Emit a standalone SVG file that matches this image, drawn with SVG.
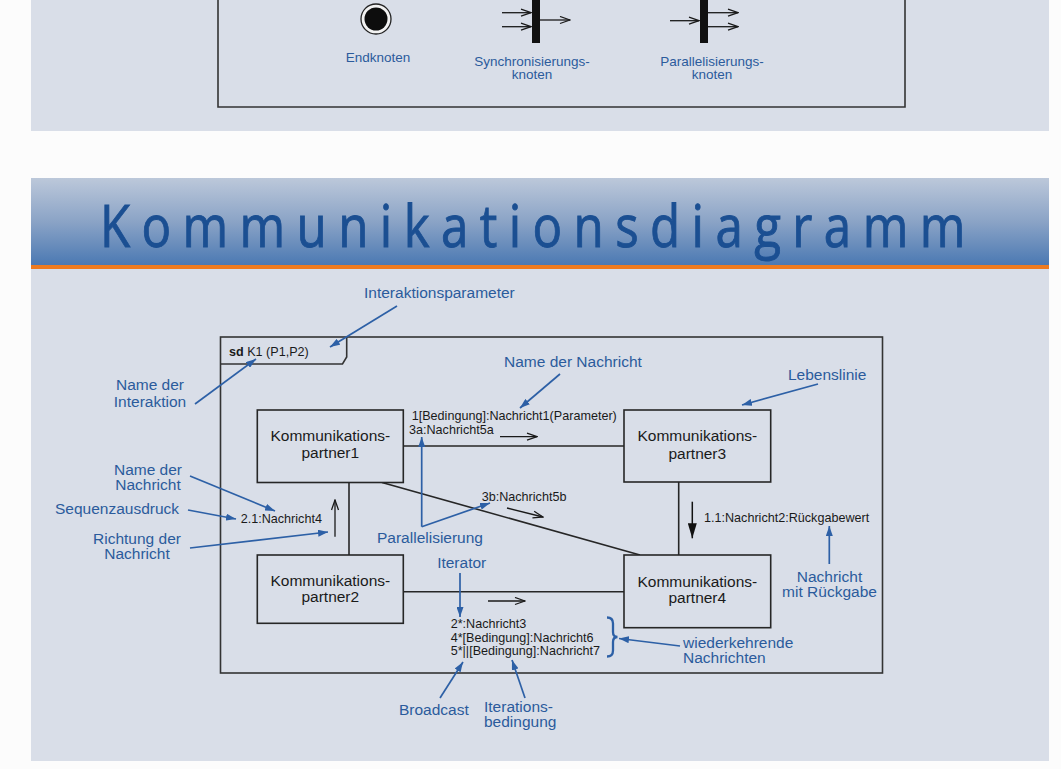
<svg xmlns="http://www.w3.org/2000/svg" width="1061" height="769" viewBox="0 0 1061 769">
<defs>
<linearGradient id="hdr" x1="0" y1="0" x2="0" y2="1">
<stop offset="0" stop-color="#bcc8da"/>
<stop offset="0.5" stop-color="#8aa3c6"/>
<stop offset="1" stop-color="#4a78b2"/>
</linearGradient>
<marker id="ba" viewBox="0 0 10 7" refX="10" refY="3.5" markerWidth="10" markerHeight="7" markerUnits="userSpaceOnUse" orient="auto">
<path d="M0,0 L10,3.5 L0,7 z" fill="#2d60a6"/>
</marker>
<marker id="oa" viewBox="-1 -1 12 9" refX="10" refY="3.5" markerWidth="12" markerHeight="9" markerUnits="userSpaceOnUse" orient="auto">
<path d="M0,0 L10,3.5 L0,7" fill="none" stroke="#1a1a1a" stroke-width="1.3"/>
</marker>
<marker id="fa" viewBox="0 0 15 9" refX="15" refY="4.5" markerWidth="15" markerHeight="9" markerUnits="userSpaceOnUse" orient="auto">
<path d="M0,0 L15,4.5 L0,9 z" fill="#111"/>
</marker>
</defs>
<style>
.panel{fill:#d9dee8}
.frame{fill:none;stroke:#333;stroke-width:1.6}
.box{fill:#d9dee8;stroke:#262626;stroke-width:1.6}
.conn{stroke:#262626;stroke-width:1.6;fill:none}
.msgarr{stroke:#1a1a1a;stroke-width:1.3;fill:none;marker-end:url(#oa)}
.ann{stroke:#2d60a6;stroke-width:1.7;fill:none;marker-end:url(#ba)}
.lbl{font-family:"Liberation Sans",Arial,sans-serif;font-size:15.5px;fill:#2b5b9c}
.tl{font-family:"Liberation Sans",Arial,sans-serif;font-size:13.5px;fill:#2b5b9c;text-anchor:middle}
.msg{font-family:"Liberation Sans",Arial,sans-serif;font-size:12.6px;fill:#1a1a1a}
.node{font-family:"Liberation Sans",Arial,sans-serif;font-size:15.5px;fill:#1a1a1a;text-anchor:middle}
.mid{text-anchor:middle}
</style>
<rect x="0" y="0" width="1061" height="769" fill="#fcfcfc"/>
<!-- top panel -->
<rect class="panel" x="31" y="0" width="1018" height="131"/>
<path class="frame" d="M218,-5 L218,107 L905,107 L905,-5"/>
<g id="endknoten">
<circle cx="376" cy="19" r="15" fill="#f2f2f2" stroke="#222" stroke-width="1.3"/>
<circle cx="376" cy="19" r="11.5" fill="#0d0d0d"/>
<text class="tl" x="378" y="62">Endknoten</text>
</g>
<g id="synchronisierungsknoten">
<rect x="532" y="-5" width="8" height="48" fill="#111"/>
<line class="msgarr" x1="502" y1="12.7" x2="531" y2="12.7"/>
<line class="msgarr" x1="502" y1="26.7" x2="531" y2="26.7"/>
<line class="msgarr" x1="540" y1="20" x2="570" y2="20"/>
<text class="tl" x="532" y="66">Synchronisierungs-</text>
<text class="tl" x="532" y="79">knoten</text>
</g>
<g id="parallelisierungsknoten">
<rect x="700" y="-5" width="8" height="48" fill="#111"/>
<line class="msgarr" x1="670" y1="20.7" x2="699" y2="20.7"/>
<line class="msgarr" x1="708" y1="12.7" x2="738" y2="12.7"/>
<line class="msgarr" x1="708" y1="26.7" x2="738" y2="26.7"/>
<text class="tl" x="712" y="66">Parallelisierungs-</text>
<text class="tl" x="712" y="79">knoten</text>
</g>
<!-- header -->
<rect x="31" y="178" width="1018" height="88" fill="url(#hdr)"/>
<rect x="31" y="265" width="1018" height="4" fill="#ef7b1f"/>
<text transform="translate(100,247) scale(0.85,1)" x="0" y="0" font-family="'Open Sans','Noto Sans',sans-serif" font-size="58" fill="#1b4f92" stroke="#1b4f92" stroke-width="0.9" textLength="1018" lengthAdjust="spacing">Kommunikationsdiagramm</text>
<!-- bottom panel -->
<rect class="panel" x="31" y="269" width="1018" height="492"/>
<g id="frame-sd">
<rect class="frame" x="220.5" y="337" width="662" height="336"/>
<path class="frame" d="M220.5,364 L342.5,364 L346.7,357 L346.7,337"/>
<text class="msg" x="229" y="356" font-size="13"><tspan font-weight="bold">sd</tspan> K1 (P1,P2)</text>
</g>
<g id="connectors">
<line class="conn" x1="403.3" y1="446" x2="624" y2="446"/>
<line class="conn" x1="382" y1="482.5" x2="640" y2="555"/>
<line class="conn" x1="349" y1="482.5" x2="349" y2="555"/>
<line class="conn" x1="678.7" y1="482" x2="678.7" y2="555"/>
<line class="conn" x1="403.3" y1="591.7" x2="624" y2="591.7"/>
<line class="msgarr" x1="500" y1="436.7" x2="537" y2="436.7"/>
<line class="msgarr" x1="507" y1="508" x2="543" y2="517"/>
<line class="msgarr" x1="335" y1="536.7" x2="335" y2="500"/>
<line class="msgarr" x1="488" y1="601" x2="525" y2="601"/>
<line x1="692.3" y1="501.7" x2="692.3" y2="538.3" stroke="#111" stroke-width="1.5" marker-end="url(#fa)"/>
</g>
<g id="partner1">
<rect class="box" x="257.3" y="410" width="146" height="72.5"/>
<text class="node" x="330.3" y="441">Kommunikations-</text>
<text class="node" x="330.3" y="458">partner1</text>
</g>
<g id="partner3">
<rect class="box" x="624" y="410" width="146.7" height="72"/>
<text class="node" x="697.3" y="441">Kommunikations-</text>
<text class="node" x="697.3" y="459">partner3</text>
</g>
<g id="partner2">
<rect class="box" x="257.3" y="555" width="146" height="68.3"/>
<text class="node" x="330.3" y="586">Kommunikations-</text>
<text class="node" x="330.3" y="602">partner2</text>
</g>
<g id="partner4">
<rect class="box" x="624" y="555" width="146.7" height="72.7"/>
<text class="node" x="697.3" y="587">Kommunikations-</text>
<text class="node" x="697.3" y="603">partner4</text>
</g>
<g id="messages">
<text class="msg" x="411.7" y="420">1[Bedingung]:Nachricht1(Parameter)</text>
<text class="msg" x="409" y="433.5">3a:Nachricht5a</text>
<text class="msg" x="481.7" y="501">3b:Nachricht5b</text>
<text class="msg" x="240.7" y="523.3">2.1:Nachricht4</text>
<text class="msg" x="704" y="521.7">1.1:Nachricht2:Rückgabewert</text>
<text class="msg" x="450.7" y="628">2*:Nachricht3</text>
<text class="msg" x="450.7" y="641.5">4*[Bedingung]:Nachricht6</text>
<text class="msg" x="450.7" y="655">5*||[Bedingung]:Nachricht7</text>
</g>
<g id="annotations">
<text class="lbl" x="364" y="298">Interaktionsparameter</text>
<line class="ann" x1="397" y1="306" x2="330" y2="347"/>
<text class="lbl mid" x="150" y="390">Name der</text>
<text class="lbl mid" x="150" y="406.7">Interaktion</text>
<line class="ann" x1="195" y1="404" x2="256" y2="359"/>
<text class="lbl" x="504" y="367.3">Name der Nachricht</text>
<line class="ann" x1="560" y1="374" x2="520" y2="408"/>
<text class="lbl" x="788" y="380">Lebenslinie</text>
<line class="ann" x1="818" y1="384" x2="742" y2="405"/>
<text class="lbl mid" x="148" y="475">Name der</text>
<text class="lbl mid" x="148" y="490">Nachricht</text>
<line class="ann" x1="190" y1="476" x2="275" y2="511"/>
<text class="lbl" x="55" y="514">Sequenzausdruck</text>
<line class="ann" x1="188" y1="510" x2="236" y2="519"/>
<text class="lbl mid" x="137" y="544">Richtung der</text>
<text class="lbl mid" x="137" y="559.3">Nachricht</text>
<line class="ann" x1="190" y1="548" x2="328" y2="532"/>
<text class="lbl" x="377" y="543">Parallelisierung</text>
<line class="ann" x1="421.7" y1="526.7" x2="421.7" y2="437"/>
<line class="ann" x1="421.7" y1="526.7" x2="490" y2="503"/>
<text class="lbl mid" x="461.7" y="568.3">Iterator</text>
<line class="ann" x1="460" y1="573" x2="460" y2="617"/>
<text class="lbl mid" x="829.5" y="581.7">Nachricht</text>
<text class="lbl mid" x="829.5" y="596.7">mit Rückgabe</text>
<line class="ann" x1="829.3" y1="564" x2="829.3" y2="526"/>
<path d="M607,617.5 Q613,617.5 613,623.5 L613,632 Q613,637 617.5,637 Q613,637 613,642 L613,650.5 Q613,656.5 607,656.5" fill="none" stroke="#2d60a6" stroke-width="2.3"/>
<text class="lbl" x="683" y="648.3">wiederkehrende</text>
<text class="lbl" x="683" y="663.3">Nachrichten</text>
<line class="ann" x1="680" y1="646" x2="619" y2="638.5"/>
<text class="lbl" x="399" y="715">Broadcast</text>
<line class="ann" x1="440" y1="698" x2="463" y2="662"/>
<text class="lbl" x="484" y="711.7">Iterations-</text>
<text class="lbl" x="484" y="726.7">bedingung</text>
<line class="ann" x1="525" y1="698" x2="512" y2="660"/>
</g>
</svg>
